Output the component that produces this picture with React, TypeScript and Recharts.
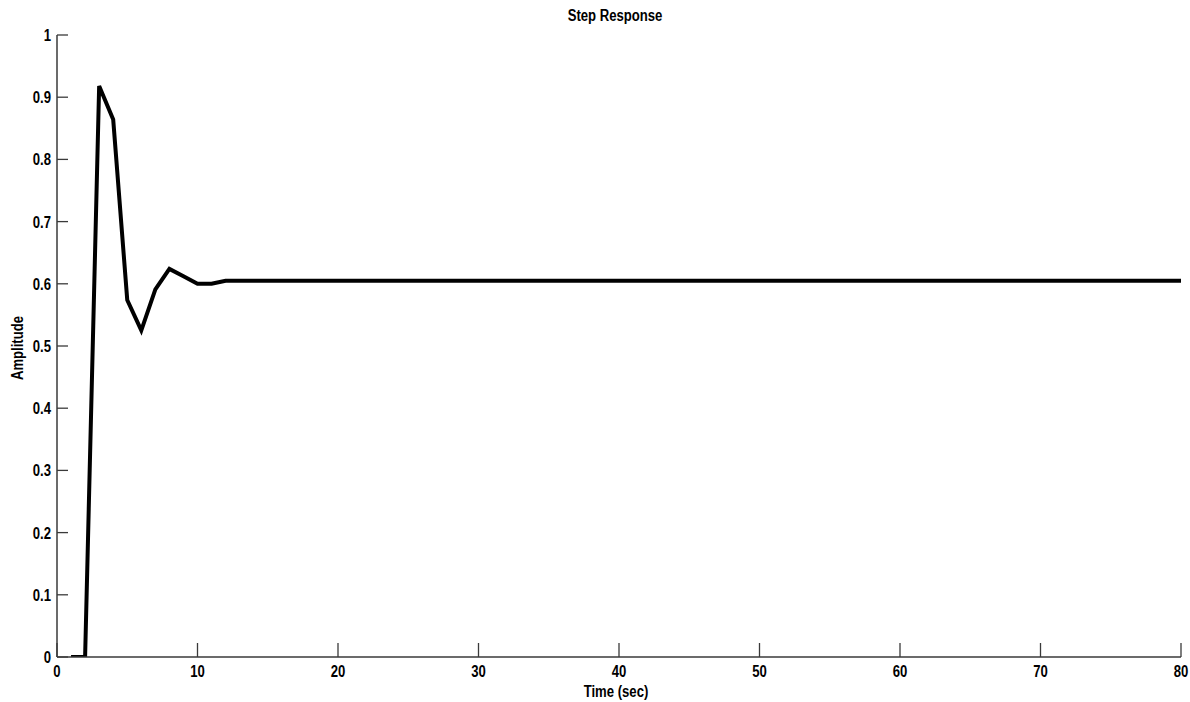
import React from 'react';
import { LineChart, Line, XAxis, YAxis } from 'recharts';

const times = [1, 2, 3, 4, 5, 6, 7, 8, 9, 10, 11, 12, 13, 80];
const amplitudes = [0, 0, 0.918, 0.864, 0.574, 0.525, 0.591, 0.624, 0.612, 0.6, 0.6, 0.605, 0.605, 0.605];
const xTicks = [0, 10, 20, 30, 40, 50, 60, 70, 80];
const yTicks = [0, 0.1, 0.2, 0.3, 0.4, 0.5, 0.6, 0.7, 0.8, 0.9, 1];
const yTickLabels = ['0', '0.1', '0.2', '0.3', '0.4', '0.5', '0.6', '0.7', '0.8', '0.9', '1'];

const data = times.map((t, i) => ({ t, v: amplitudes[i] }));

const FONT = '"Liberation Sans Narrow", "Arial Narrow", "Liberation Sans", Arial, sans-serif';
const AXIS = '#3a3a3a';
const SX = 0.82;

const NarrowText = ({ x, y, anchor, children, rotate }: any) => (
  <text
    x={0}
    y={0}
    textAnchor={anchor}
    fontFamily={FONT}
    fontWeight="bold"
    fontSize={16}
    fill="#000"
    transform={`translate(${x} ${y})${rotate ? ` rotate(${rotate})` : ''} scale(${SX} 1)`}
  >
    {children}
  </text>
);

const XTick = (props: any) => {
  const { x, y, payload } = props;
  return (
    <g>
      <line x1={x} y1={y} x2={x} y2={y - 14} stroke={AXIS} strokeWidth={1.3} />
      <NarrowText x={x} y={y + 20} anchor="middle">{String(payload.value)}</NarrowText>
    </g>
  );
};

const YTick = (props: any) => {
  const { x, y, payload } = props;
  const idx = yTicks.indexOf(payload.value);
  const label = idx >= 0 ? yTickLabels[idx] : String(payload.value);
  return (
    <g>
      <line x1={x} y1={y} x2={x + 11} y2={y} stroke={AXIS} strokeWidth={1.3} />
      <NarrowText x={x - 6} y={y + 6} anchor="end">{label}</NarrowText>
    </g>
  );
};

export default function App() {
  return (
    <div style={{ position: 'absolute', left: 0, top: 0, width: 1190, height: 702, background: '#fff' }}>
      <LineChart width={1190} height={702} data={data} margin={{ top: 35, right: 9, bottom: 0, left: 0 }}>
        <NarrowText x={615} y={21} anchor="middle">Step Response</NarrowText>
        <NarrowText x={616} y={697} anchor="middle">Time (sec)</NarrowText>
        <NarrowText x={23} y={348} anchor="middle" rotate={-90}>Amplitude</NarrowText>
        <XAxis
          dataKey="t"
          type="number"
          domain={[0, 80]}
          ticks={xTicks}
          height={45}
          tickSize={0}
          tickMargin={0}
          tickLine={false}
          axisLine={{ stroke: AXIS, strokeWidth: 1.5 }}
          tick={<XTick />}
          interval={0}
          allowDataOverflow
        />
        <YAxis
          type="number"
          domain={[0, 1]}
          ticks={yTicks}
          width={57}
          tickSize={0}
          tickMargin={0}
          tickLine={false}
          axisLine={{ stroke: AXIS, strokeWidth: 1.5 }}
          tick={<YTick />}
          interval={0}
          allowDataOverflow
        />
        <Line
          type="linear"
          dataKey="v"
          stroke="#000"
          strokeWidth={4}
          dot={false}
          activeDot={false}
          isAnimationActive={false}
        />
      </LineChart>
    </div>
  );
}
